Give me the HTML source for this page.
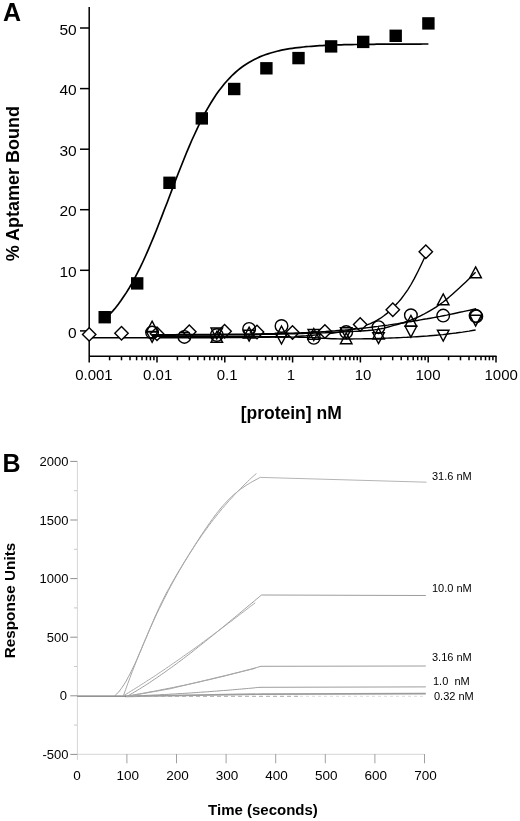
<!DOCTYPE html>
<html><head><meta charset="utf-8"><style>
html,body{margin:0;padding:0;background:#fff;}
svg{display:block;will-change:transform;}
text{font-family:"Liberation Sans",sans-serif;fill:#000;}
.ta{font-size:15px;}
.ty{font-size:15.5px;}
.tt{font-size:17.7px;font-weight:bold;}
.pl{font-size:25px;font-weight:bold;}
.tb{font-size:13px;}
.tbx{font-size:13.5px;}
.tl{font-size:11px;}
.tt2{font-size:15px;font-weight:bold;}
</style></head><body>
<svg width="520" height="821" viewBox="0 0 520 821">
<g stroke="#000" stroke-width="1.5" fill="none">
<path d="M89.2 7V362.5M88.5 356.3H496.5"/>
<path d="M80 330.9H89"/>
<path d="M80 270.3H89"/>
<path d="M80 209.7H89"/>
<path d="M80 149.2H89"/>
<path d="M80 88.6H89"/>
<path d="M80 28H89"/>
<path d="M109.6 356V360.3"/>
<path d="M121.5 356V360.3"/>
<path d="M130 356V360.3"/>
<path d="M136.6 356V360.3"/>
<path d="M142 356V360.3"/>
<path d="M146.5 356V360.3"/>
<path d="M150.4 356V360.3"/>
<path d="M153.9 356V360.3"/>
<path d="M157 356V362.5"/>
<path d="M177.4 356V360.3"/>
<path d="M189.3 356V360.3"/>
<path d="M197.8 356V360.3"/>
<path d="M204.4 356V360.3"/>
<path d="M209.8 356V360.3"/>
<path d="M214.3 356V360.3"/>
<path d="M218.2 356V360.3"/>
<path d="M221.7 356V360.3"/>
<path d="M224.8 356V362.5"/>
<path d="M245.2 356V360.3"/>
<path d="M257.1 356V360.3"/>
<path d="M265.6 356V360.3"/>
<path d="M272.2 356V360.3"/>
<path d="M277.6 356V360.3"/>
<path d="M282.1 356V360.3"/>
<path d="M286 356V360.3"/>
<path d="M289.5 356V360.3"/>
<path d="M292.6 356V362.5"/>
<path d="M313 356V360.3"/>
<path d="M324.9 356V360.3"/>
<path d="M333.4 356V360.3"/>
<path d="M340 356V360.3"/>
<path d="M345.4 356V360.3"/>
<path d="M349.9 356V360.3"/>
<path d="M353.8 356V360.3"/>
<path d="M357.3 356V360.3"/>
<path d="M360.4 356V362.5"/>
<path d="M380.8 356V360.3"/>
<path d="M392.7 356V360.3"/>
<path d="M401.2 356V360.3"/>
<path d="M407.8 356V360.3"/>
<path d="M413.2 356V360.3"/>
<path d="M417.7 356V360.3"/>
<path d="M421.6 356V360.3"/>
<path d="M425.1 356V360.3"/>
<path d="M428.2 356V362.5"/>
<path d="M448.6 356V360.3"/>
<path d="M460.5 356V360.3"/>
<path d="M469 356V360.3"/>
<path d="M475.6 356V360.3"/>
<path d="M481 356V360.3"/>
<path d="M485.5 356V360.3"/>
<path d="M489.4 356V360.3"/>
<path d="M492.9 356V360.3"/>
<path d="M496 356V362.5"/>
</g>
<path d="M89.2 337.8L92.6 337.8L96 337.8L99.4 337.8L102.8 337.8L106.1 337.8L109.5 337.8L112.9 337.8L116.3 337.8L119.7 337.8L123.1 337.8L126.5 337.8L129.9 337.8L133.2 337.8L136.6 337.8L140 337.8L143.4 337.8L146.8 337.8L150.2 337.8L153.6 337.8L157 337.8L160.3 337.8L163.7 337.8L167.1 337.7L170.5 337.7L173.9 337.7L177.3 337.7L180.7 337.7L184.1 337.7L187.4 337.7L190.8 337.7L194.2 337.7L197.6 337.7L201 337.7L204.4 337.7L207.8 337.7L211.2 337.7L214.6 337.7L217.9 337.6L221.3 337.6L224.7 337.6L228.1 337.6L231.5 337.6L234.9 337.5L238.3 337.5L241.7 337.5L245 337.5L248.4 337.4L251.8 337.4L255.2 337.3L258.6 337.3L262 337.3L265.4 337.2L268.8 337.2L272.1 337.1L275.5 337.1L278.9 337L282.3 337L285.7 336.9L289.1 336.7L292.5 336.6L295.9 336.4L299.2 336.2L302.6 336L306 335.8L309.4 335.5L312.8 335.2L316.2 334.9L319.6 334.6L323 334.2L326.4 333.9L329.7 333.5L333.1 333.1L336.5 332.6L339.9 332L343.3 331.4L346.7 330.7L350.1 329.9L353.5 329L356.8 328.1L360.2 327.1L363.6 326L367 324.9L370.4 323.6L373.8 322L377.2 320.2L380.6 318.2L383.9 315.8L387.3 313.1L390.7 310L394.1 306.7L397.5 303.1L400.9 299.2L404.3 294.7L407.7 289.8L411 284.5L414.4 278.4L417.8 271.7L421.2 264.8L424.6 257.5" stroke="#000" stroke-width="1.4" fill="none"/>
<g stroke="#000" stroke-width="1.4" fill="#fff">
<path d="M89.2 327.7L95.9 334.4L89.2 341.1L82.5 334.4Z"/>
<path d="M121.5 326.5L128.2 333.2L121.5 339.9L114.8 333.2Z"/>
<path d="M157 327.1L163.7 333.8L157 340.5L150.3 333.8Z"/>
<path d="M189.3 325.1L196 331.8L189.3 338.5L182.6 331.8Z"/>
<path d="M224.6 324.5L231.3 331.2L224.6 337.9L217.9 331.2Z"/>
<path d="M257 325.3L263.7 332L257 338.7L250.3 332Z"/>
<path d="M292.5 325.8L299.2 332.5L292.5 339.2L285.8 332.5Z"/>
<path d="M324.9 324.8L331.6 331.5L324.9 338.2L318.2 331.5Z"/>
<path d="M360.2 317.8L366.9 324.5L360.2 331.2L353.5 324.5Z"/>
<path d="M392.8 303.1L399.5 309.8L392.8 316.5L386.1 309.8Z"/>
<path d="M425.8 245.1L432.5 251.8L425.8 258.5L419.1 251.8Z"/>
</g>
<g stroke="#000" stroke-width="1.4" fill="none">
<circle cx="152.1" cy="332.5" r="6.3"/>
<circle cx="184.4" cy="336.9" r="6.3"/>
<circle cx="216.8" cy="335" r="6.3"/>
<circle cx="249.1" cy="328.9" r="6.3"/>
<circle cx="281.5" cy="326" r="6.3"/>
<circle cx="313.8" cy="337.8" r="6.3"/>
<circle cx="346.2" cy="332" r="6.3"/>
<circle cx="378.5" cy="327.2" r="6.3"/>
<circle cx="410.9" cy="315.3" r="6.3"/>
<circle cx="443.2" cy="315.6" r="6.3"/>
<circle cx="475.6" cy="315.8" r="6.3"/>
<circle cx="476.3" cy="316.4" r="6.3"/>
</g>
<path d="M152 335.2L155.3 335.2L158.5 335.2L161.8 335.2L165.1 335.2L168.3 335.2L171.6 335.2L174.9 335.2L178.1 335.1L181.4 335.1L184.7 335.1L188 335.1L191.2 335.1L194.5 335.1L197.8 335L201 335L204.3 335L207.6 335L210.8 335L214.1 334.9L217.4 334.9L220.6 334.9L223.9 334.8L227.2 334.8L230.4 334.8L233.7 334.8L237 334.7L240.3 334.7L243.5 334.7L246.8 334.6L250.1 334.6L253.3 334.6L256.6 334.5L259.9 334.5L263.1 334.4L266.4 334.4L269.7 334.3L272.9 334.2L276.2 334.2L279.5 334.1L282.7 334L286 334L289.3 333.9L292.6 333.8L295.8 333.7L299.1 333.6L302.4 333.5L305.6 333.4L308.9 333.3L312.2 333.2L315.4 333.1L318.7 333L322 332.9L325.2 332.8L328.5 332.6L331.8 332.5L335 332.3L338.3 332.2L341.6 332L344.9 331.9L348.1 331.7L351.4 331.5L354.7 331.4L357.9 331.2L361.2 331L364.5 330.7L367.7 330.5L371 330.2L374.3 329.9L377.5 329.4L380.8 328.8L384.1 328.1L387.3 327.3L390.6 326.4L393.9 325.4L397.2 324.5L400.4 323.5L403.7 322.5L407 321.4L410.2 320.3L413.5 319L416.8 317.6L420 316.1L423.3 314.5L426.6 312.7L429.8 310.8L433.1 308.9L436.4 306.8L439.6 304.5L442.9 302.2L446.2 299.6L449.5 296.8L452.7 293.9L456 290.9L459.3 288L462.5 285L465.8 281.9L469.1 278.8L472.3 275.6L475.6 272.3" stroke="#000" stroke-width="1.4" fill="none"/>
<path d="M152 334.6L155.3 334.6L158.5 334.6L161.8 334.6L165.1 334.6L168.4 334.6L171.6 334.6L174.9 334.6L178.2 334.5L181.5 334.5L184.7 334.5L188 334.5L191.3 334.5L194.6 334.5L197.8 334.4L201.1 334.4L204.4 334.4L207.7 334.4L210.9 334.4L214.2 334.3L217.5 334.3L220.8 334.3L224 334.2L227.3 334.2L230.6 334.2L233.9 334.2L237.1 334.1L240.4 334.1L243.7 334.1L247 334L250.2 334L253.5 334L256.8 333.9L260.1 333.9L263.3 333.8L266.6 333.8L269.9 333.7L273.2 333.6L276.4 333.6L279.7 333.5L283 333.4L286.3 333.3L289.5 333.2L292.8 333.1L296.1 333L299.4 332.9L302.6 332.8L305.9 332.7L309.2 332.5L312.5 332.3L315.7 332.1L319 331.9L322.3 331.7L325.6 331.5L328.8 331.2L332.1 331L335.4 330.8L338.7 330.5L341.9 330.2L345.2 330L348.5 329.7L351.8 329.3L355 329L358.3 328.7L361.6 328.3L364.9 328L368.1 327.6L371.4 327.2L374.7 326.8L378 326.4L381.2 325.9L384.5 325.5L387.8 325.1L391.1 324.6L394.3 324.1L397.6 323.7L400.9 323.2L404.2 322.7L407.4 322.1L410.7 321.6L414 321L417.3 320.5L420.5 319.9L423.8 319.3L427.1 318.8L430.4 318.2L433.6 317.6L436.9 317L440.2 316.4L443.5 315.7L446.7 315.1L450 314.4L453.3 313.7L456.6 313L459.8 312.3L463.1 311.6L466.4 310.9L469.7 310.2L472.9 309.4L476.2 308.7" stroke="#000" stroke-width="1.4" fill="none"/>
<path d="M152 336.2L155.3 336.2L158.5 336.2L161.8 336.2L165.1 336.2L168.3 336.2L171.6 336.2L174.9 336.2L178.1 336.2L181.4 336.2L184.7 336.2L188 336.2L191.2 336.3L194.5 336.3L197.8 336.3L201 336.3L204.3 336.3L207.6 336.3L210.8 336.3L214.1 336.3L217.4 336.3L220.6 336.4L223.9 336.4L227.2 336.4L230.4 336.4L233.7 336.4L237 336.4L240.3 336.4L243.5 336.5L246.8 336.5L250.1 336.5L253.3 336.5L256.6 336.5L259.9 336.6L263.1 336.6L266.4 336.6L269.7 336.7L272.9 336.7L276.2 336.8L279.5 336.8L282.7 336.9L286 336.9L289.3 337L292.6 337.1L295.8 337.1L299.1 337.2L302.4 337.3L305.6 337.4L308.9 337.5L312.2 337.6L315.4 337.8L318.7 338L322 338.2L325.2 338.3L328.5 338.5L331.8 338.7L335 338.8L338.3 338.9L341.6 339L344.9 339L348.1 339L351.4 339L354.7 338.9L357.9 338.9L361.2 338.9L364.5 338.8L367.7 338.8L371 338.7L374.3 338.6L377.5 338.5L380.8 338.4L384.1 338.3L387.3 338.1L390.6 338L393.9 337.9L397.2 337.7L400.4 337.6L403.7 337.4L407 337.3L410.2 337.1L413.5 336.9L416.8 336.7L420 336.5L423.3 336.3L426.6 336.1L429.8 335.8L433.1 335.5L436.4 335.2L439.6 334.9L442.9 334.6L446.2 334.2L449.5 333.8L452.7 333.4L456 333L459.3 332.5L462.5 332.1L465.8 331.6L469.1 331.1L472.3 330.5L475.6 330" stroke="#000" stroke-width="1.4" fill="none"/>
<g stroke="#000" stroke-width="1.4" fill="none" stroke-linejoin="miter">
<path d="M152.1 321.2L157.9 332.1L146.3 332.1Z"/>
<path d="M216.8 331.4L222.6 342.3L211 342.3Z"/>
<path d="M249.1 327.2L254.9 338.1L243.3 338.1Z"/>
<path d="M281.5 326.1L287.3 337L275.7 337Z"/>
<path d="M313.8 328.5L319.6 339.4L308 339.4Z"/>
<path d="M346.2 332.9L352 343.8L340.4 343.8Z"/>
<path d="M378.5 328.1L384.3 339L372.7 339Z"/>
<path d="M410.9 315.4L416.7 326.3L405.1 326.3Z"/>
<path d="M443.2 293.9L449 304.8L437.4 304.8Z"/>
<path d="M475.6 266.9L481.4 277.8L469.8 277.8Z"/>
<path d="M152.1 342.3L157.9 331.4L146.3 331.4Z"/>
<path d="M216.8 338.9L222.6 328L211 328Z"/>
<path d="M249.1 341.1L254.9 330.2L243.3 330.2Z"/>
<path d="M281.5 344L287.3 333.1L275.7 333.1Z"/>
<path d="M313.8 340.4L319.6 329.5L308 329.5Z"/>
<path d="M346.2 338.6L352 327.7L340.4 327.7Z"/>
<path d="M378.5 343.6L384.3 332.7L372.7 332.7Z"/>
<path d="M410.9 337.2L416.7 326.3L405.1 326.3Z"/>
<path d="M443.2 341.1L449 330.2L437.4 330.2Z"/>
<path d="M475.6 326.1L481.4 315.2L469.8 315.2Z"/>
<path d="M179.3 332.6H189.5"/>
</g>
<path d="M104.7 319.3L107.4 316.7L110.1 313.9L112.9 310.9L115.6 307.7L118.3 304.2L121 300.5L123.7 296.6L126.5 292.4L129.2 288L131.9 283.3L134.6 278.3L137.3 273.1L140.1 267.7L142.8 262L145.5 256L148.2 249.9L150.9 243.5L153.7 236.9L156.4 230.2L159.1 223.3L161.8 216.4L164.5 209.3L167.3 202.2L170 195L172.7 187.9L175.4 180.8L178.1 173.7L180.9 166.8L183.6 160L186.3 153.3L189 146.8L191.7 140.5L194.5 134.5L197.2 128.6L199.9 123L202.6 117.6L205.3 112.5L208.1 107.6L210.8 103L213.5 98.7L216.2 94.6L218.9 90.8L221.7 87.2L224.4 83.8L227.1 80.7L229.8 77.8L232.5 75L235.3 72.5L238 70.2L240.7 68L243.4 66L246.1 64.2L248.9 62.5L251.6 60.9L254.3 59.5L257 58.2L259.7 56.9L262.5 55.8L265.2 54.8L267.9 53.9L270.6 53L273.4 52.2L276.1 51.5L278.8 50.8L281.5 50.2L284.2 49.7L287 49.2L289.7 48.7L292.4 48.3L295.1 47.9L297.8 47.6L300.6 47.3L303.3 47L306 46.7L308.7 46.5L311.4 46.3L314.2 46.1L316.9 45.9L319.6 45.7L322.3 45.6L325 45.4L327.8 45.3L330.5 45.2L333.2 45.1L335.9 45L338.6 44.9L341.4 44.8L344.1 44.7L346.8 44.7L349.5 44.6L352.2 44.6L355 44.5L357.7 44.5L360.4 44.4L363.1 44.4L365.8 44.3L368.6 44.3L371.3 44.3L374 44.3L376.7 44.2L379.4 44.2L382.2 44.2L384.9 44.2L387.6 44.2L390.3 44.1L393 44.1L395.8 44.1L398.5 44.1L401.2 44.1L403.9 44.1L406.6 44.1L409.4 44.1L412.1 44.1L414.8 44.1L417.5 44.1L420.2 44.1L423 44L425.7 44L428.4 44" stroke="#000" stroke-width="1.7" fill="none"/>
<rect x="98.5" y="311" width="12.4" height="12.4" fill="#000"/>
<rect x="131" y="277.2" width="12.4" height="12.4" fill="#000"/>
<rect x="163.3" y="176.6" width="12.4" height="12.4" fill="#000"/>
<rect x="195.6" y="112.2" width="12.4" height="12.4" fill="#000"/>
<rect x="228" y="82.8" width="12.4" height="12.4" fill="#000"/>
<rect x="260.2" y="62.1" width="12.4" height="12.4" fill="#000"/>
<rect x="292.3" y="51.9" width="12.4" height="12.4" fill="#000"/>
<rect x="324.9" y="40.2" width="12.4" height="12.4" fill="#000"/>
<rect x="357" y="35.7" width="12.4" height="12.4" fill="#000"/>
<rect x="389.5" y="29.6" width="12.4" height="12.4" fill="#000"/>
<rect x="422.2" y="17.2" width="12.4" height="12.4" fill="#000"/>
<text x="76.7" y="337.5" text-anchor="end" class="ty">0</text>
<text x="76.7" y="276.9" text-anchor="end" class="ty">10</text>
<text x="76.7" y="216.3" text-anchor="end" class="ty">20</text>
<text x="76.7" y="155.8" text-anchor="end" class="ty">30</text>
<text x="76.7" y="95.2" text-anchor="end" class="ty">40</text>
<text x="76.7" y="34.6" text-anchor="end" class="ty">50</text>
<text x="93.9" y="380.3" text-anchor="middle" class="ta">0.001</text>
<text x="157.7" y="380.3" text-anchor="middle" class="ta">0.01</text>
<text x="227.1" y="380.3" text-anchor="middle" class="ta">0.1</text>
<text x="290.8" y="380.3" text-anchor="middle" class="ta">1</text>
<text x="363" y="380.3" text-anchor="middle" class="ta">10</text>
<text x="428" y="380.3" text-anchor="middle" class="ta">100</text>
<text x="501.2" y="380.3" text-anchor="middle" class="ta">1000</text>
<text x="291.2" y="418.5" text-anchor="middle" class="tt" style="font-size:17.5px">[protein] nM</text>
<text transform="translate(19 183.7) rotate(-90)" text-anchor="middle" class="tt" style="font-size:18px">% Aptamer Bound</text>
<text x="3" y="20.5" class="pl">A</text>
<g stroke="#d6d6d6" stroke-width="1" fill="none">
<path d="M77.4 461.4V760M77.3 754.3H424.5"/>
</g>
<g stroke="#909090" stroke-width="1" fill="none">
<path d="M70.3 754.4H77.3"/>
<path d="M74 725.1H77.3" stroke="#c8c8c8"/>
<path d="M70.3 695.8H77.3"/>
<path d="M74 666.5H77.3" stroke="#c8c8c8"/>
<path d="M70.3 637.2H77.3"/>
<path d="M74 607.9H77.3" stroke="#c8c8c8"/>
<path d="M70.3 578.6H77.3"/>
<path d="M74 549.3H77.3" stroke="#c8c8c8"/>
<path d="M70.3 520H77.3"/>
<path d="M74 490.7H77.3" stroke="#c8c8c8"/>
<path d="M70.3 461.4H77.3"/>
<path d="M126.9 754V763.3" stroke="#a0a0a0"/>
<path d="M176.5 754V763.3" stroke="#a0a0a0"/>
<path d="M226.1 754V763.3" stroke="#a0a0a0"/>
<path d="M275.7 754V763.3" stroke="#a0a0a0"/>
<path d="M325.3 754V763.3" stroke="#a0a0a0"/>
<path d="M374.9 754V763.3" stroke="#a0a0a0"/>
<path d="M424.5 754V763.3" stroke="#a0a0a0"/>
</g>
<g stroke="#9c9c9c" stroke-width="1" fill="none">
<path d="M114.8 695.7L115.7 694.9L116.6 694.1L117.5 693.1L118.5 692.1L119.4 691L120.3 689.9L121.2 688.6L122.1 687.3L123 686L124 684.6L124.9 683.1L125.8 681.6L126.7 680L127.6 678.3L128.5 676.6L129.5 674.9L130.4 673.1L131.3 671.3L132.2 669.4L133.1 667.5L134 665.6L135 663.6L135.9 661.6L136.8 659.6L137.7 657.5L138.6 655.5L139.5 653.3L140.5 651.2L141.4 649.1L142.3 646.9L143.2 644.8L144.1 642.6L145 640.4L146 638.2L146.9 636L147.8 633.8L148.7 631.6L149.6 629.4L150.5 627.2L151.5 625.1L152.4 622.9L153.3 620.8L154.2 618.6L155.1 616.5L156 614.5L157 612.4L157.9 610.4L158.8 608.4L159.7 606.5L160.6 604.5L161.5 602.6L162.5 600.8L163.4 598.9L164.3 597.1L165.2 595.4L166.1 593.6L167 591.9L167.9 590.2L168.9 588.5L169.8 586.8L170.7 585.1L171.6 583.5L172.5 581.9L173.4 580.3L174.4 578.7L175.3 577.1L176.2 575.5L177.1 574L178 572.4L178.9 570.9L179.9 569.3L180.8 567.8L181.7 566.3L182.6 564.8L183.5 563.3L184.4 561.8L185.4 560.3L186.3 558.9L187.2 557.4L188.1 555.9L189 554.5L189.9 553L190.9 551.5L191.8 550.1L192.7 548.6L193.6 547.2L194.5 545.7L195.4 544.3L196.4 542.8L197.3 541.4L198.2 540L199.1 538.6L200 537.1L200.9 535.7L201.9 534.3L202.8 533L203.7 531.6L204.6 530.2L205.5 528.9L206.4 527.5L207.4 526.2L208.3 524.9L209.2 523.6L210.1 522.3L211 521L211.9 519.7L212.8 518.5L213.8 517.2L214.7 516L215.6 514.8L216.5 513.6L217.4 512.4L218.3 511.3L219.3 510.1L220.2 509L221.1 507.9L222 506.8L222.9 505.7L223.8 504.7L224.8 503.7L225.7 502.7L226.6 501.7L227.5 500.7L228.4 499.8L229.3 498.8L230.3 497.9L231.2 497.1L232.1 496.2L233 495.4L233.9 494.6L234.8 493.8L235.8 493L236.7 492.3L237.6 491.5L238.5 490.8L239.4 490.1L240.3 489.4L241.3 488.7L242.2 488.1L243.1 487.5L244 486.8L244.9 486.2L245.8 485.6L246.8 485L247.7 484.4L248.6 483.9L249.5 483.3L250.4 482.8L251.3 482.2L252.3 481.7L253.2 481.2L254.1 480.7L255 480.2L255.9 479.7L256.8 479.2L257.8 478.7L258.7 478.2L259.6 477.7L260.5 477.2"/>
<path d="M260.5 477.4L426.5 482.2" stroke="#b4b4b4"/>
<path d="M127.5 696.1L129.2 695.1L130.9 694.1L132.6 693.2L134.3 692.1L136 691.1L137.7 690.1L139.4 689.1L141.1 688L142.8 686.9L144.5 685.9L146.2 684.8L147.9 683.7L149.6 682.6L151.2 681.5L152.9 680.3L154.6 679.2L156.3 678.1L158 676.9L159.7 675.7L161.4 674.5L163.1 673.4L164.8 672.2L166.5 671L168.2 669.7L169.9 668.5L171.6 667.3L173.3 666.1L175 664.8L176.7 663.6L178.4 662.3L180.1 661L181.8 659.8L183.5 658.5L185.2 657.2L186.9 655.9L188.6 654.6L190.3 653.3L192 652L193.7 650.6L195.3 649.3L197 648L198.7 646.6L200.4 645.3L202.1 643.9L203.8 642.6L205.5 641.2L207.2 639.9L208.9 638.5L210.6 637.1L212.3 635.8L214 634.4L215.7 633L217.4 631.6L219.1 630.2L220.8 628.8L222.5 627.4L224.2 626L225.9 624.6L227.6 623.2L229.3 621.8L231 620.4L232.7 619L234.4 617.6L236.1 616.2L237.8 614.8L239.4 613.4L241.1 612L242.8 610.6L244.5 609.1L246.2 607.7L247.9 606.3L249.6 604.9L251.3 603.5L253 602.1L254.7 600.7L256.4 599.2L258.1 597.8L259.8 596.4L261.5 595L425.8 595.5"/>
<path d="M125.5 696.3L127.8 695.9L130.1 695.5L132.4 695.1L134.7 694.7L137 694.3L139.3 693.9L141.6 693.5L143.9 693.1L146.2 692.7L148.5 692.2L150.8 691.8L153.1 691.4L155.4 691L157.7 690.5L159.9 690.1L162.2 689.6L164.5 689.2L166.8 688.7L169.1 688.3L171.4 687.8L173.7 687.4L176 686.9L178.3 686.4L180.6 685.9L182.9 685.5L185.2 685L187.5 684.5L189.8 684L192.1 683.5L194.4 683L196.7 682.5L199 682L201.3 681.5L203.6 680.9L205.9 680.4L208.2 679.9L210.5 679.4L212.8 678.8L215.1 678.3L217.4 677.7L219.7 677.2L222 676.6L224.3 676.1L226.6 675.5L228.8 674.9L231.1 674.3L233.4 673.7L235.7 673.1L238 672.6L240.3 671.9L242.6 671.3L244.9 670.7L247.2 670.1L249.5 669.5L251.8 668.9L254.1 668.2L256.4 667.6L258.7 666.9L261 666.3L425.8 666"/>
<path d="M125.5 696.3L127.8 696.2L130.1 696.1L132.3 696L134.6 695.9L136.9 695.8L139.2 695.7L141.5 695.6L143.7 695.5L146 695.4L148.3 695.3L150.6 695.2L152.9 695.1L155.1 695L157.4 694.9L159.7 694.8L162 694.6L164.3 694.5L166.5 694.4L168.8 694.3L171.1 694.1L173.4 694L175.7 693.9L177.9 693.7L180.2 693.6L182.5 693.5L184.8 693.3L187.1 693.2L189.3 693L191.6 692.9L193.9 692.7L196.2 692.6L198.4 692.4L200.7 692.2L203 692.1L205.3 691.9L207.6 691.8L209.8 691.6L212.1 691.4L214.4 691.2L216.7 691.1L219 690.9L221.2 690.7L223.5 690.5L225.8 690.4L228.1 690.2L230.4 690L232.6 689.8L234.9 689.6L237.2 689.4L239.5 689.2L241.8 689L244 688.8L246.3 688.6L248.6 688.4L250.9 688.2L253.2 688L255.4 687.7L257.7 687.5L260 687.3L425.8 686.9"/>
<path d="M125.5 696.3L262 694.1L425.8 693.7" stroke-width="1.7"/>
</g>
<path d="M77.3 696.1H126" stroke="#6e6e6e" stroke-width="1.1" fill="none"/>
<path d="M126 696.3H300" stroke="#a8a8a8" stroke-width="1" stroke-dasharray="4 3" fill="none"/>
<path d="M300 696.3H425.8" stroke="#dadada" stroke-width="1" stroke-dasharray="3 3" fill="none"/>
<g stroke="#a8a8a8" stroke-width="1" fill="none">
<path d="M123.3 696L125.6 689.7L127.8 683.5L130.1 677.4L132.3 671.5L134.6 665.7L136.9 659.9L139.1 654.3L141.4 648.8L143.6 643.4L145.9 638.1L148.1 633L150.4 627.9L152.6 622.9L154.9 618L157.1 613.2L159.4 608.5L161.7 603.9L163.9 599.4L166.2 595L168.4 590.6L170.7 586.4L172.9 582.2L175.2 578.1L177.4 574.1L179.7 570.1L182 566.3L184.2 562.5L186.5 558.8L188.7 555.1L191 551.6L193.2 548.1L195.5 544.6L197.7 541.3L200 538L202.2 534.7L204.5 531.6L206.8 528.5L209 525.4L211.3 522.4L213.5 519.5L215.8 516.6L218 513.8L220.3 511L222.5 508.3L224.8 505.7L227 503.1L229.3 500.5L231.6 498L233.8 495.5L236.1 493.1L238.3 490.8L240.6 488.5L242.8 486.2L245.1 484L247.3 481.8L249.6 479.6L251.8 477.5L254.1 475.5L256.4 473.5"/>
<path d="M123.5 695.7L125.2 694.7L126.8 693.7L128.5 692.7L130.2 691.6L131.8 690.6L133.5 689.6L135.2 688.5L136.8 687.5L138.5 686.5L140.2 685.4L141.8 684.3L143.5 683.3L145.2 682.2L146.8 681.1L148.5 680L150.2 679L151.8 677.9L153.5 676.8L155.2 675.7L156.8 674.6L158.5 673.4L160.2 672.3L161.8 671.2L163.5 670.1L165.2 669L166.8 667.8L168.5 666.7L170.2 665.5L171.8 664.4L173.5 663.2L175.2 662.1L176.8 660.9L178.5 659.7L180.2 658.6L181.8 657.4L183.5 656.2L185.2 655L186.8 653.9L188.5 652.7L190.2 651.5L191.9 650.3L193.5 649.1L195.2 647.9L196.9 646.7L198.5 645.5L200.2 644.3L201.9 643L203.5 641.8L205.2 640.6L206.9 639.4L208.5 638.1L210.2 636.9L211.9 635.7L213.5 634.4L215.2 633.2L216.9 632L218.5 630.7L220.2 629.5L221.9 628.2L223.5 627L225.2 625.7L226.9 624.4L228.5 623.2L230.2 621.9L231.9 620.7L233.5 619.4L235.2 618.1L236.9 616.9L238.5 615.6L240.2 614.3L241.9 613L243.5 611.8L245.2 610.5L246.9 609.2L248.5 607.9L250.2 606.6L251.9 605.3L253.5 604.1L255.2 602.8"/>
<path d="M126 696.6L170 688.8L255.4 668.3"/>
</g>
<text x="68.5" y="759" text-anchor="end" class="tb">-500</text>
<text x="67.1" y="700.4" text-anchor="end" class="tb">0</text>
<text x="68.5" y="641.8" text-anchor="end" class="tb">500</text>
<text x="68.5" y="583.2" text-anchor="end" class="tb">1000</text>
<text x="68.5" y="524.6" text-anchor="end" class="tb">1500</text>
<text x="68.5" y="466" text-anchor="end" class="tb">2000</text>
<text x="77.1" y="779.6" text-anchor="middle" class="tbx">0</text>
<text x="127.8" y="779.6" text-anchor="middle" class="tbx">100</text>
<text x="177.4" y="779.6" text-anchor="middle" class="tbx">200</text>
<text x="227" y="779.6" text-anchor="middle" class="tbx">300</text>
<text x="276.6" y="779.6" text-anchor="middle" class="tbx">400</text>
<text x="326.2" y="779.6" text-anchor="middle" class="tbx">500</text>
<text x="375.8" y="779.6" text-anchor="middle" class="tbx">600</text>
<text x="425.4" y="779.6" text-anchor="middle" class="tbx">700</text>
<text x="432" y="480.3" class="tl">31.6 nM</text>
<text x="432" y="591.5" class="tl">10.0 nM</text>
<text x="432" y="661.2" class="tl">3.16 nM</text>
<text x="433" y="685" class="tl">1.0&#160;&#160;nM</text>
<text x="434" y="700" class="tl">0.32 nM</text>
<text x="263" y="814.5" text-anchor="middle" class="tt2">Time (seconds)</text>
<text transform="translate(14.6 600.5) rotate(-90)" text-anchor="middle" class="tt2" style="font-size:15.3px">Response Units</text>
<text x="2.5" y="471.8" class="pl">B</text>
</svg>
</body></html>
